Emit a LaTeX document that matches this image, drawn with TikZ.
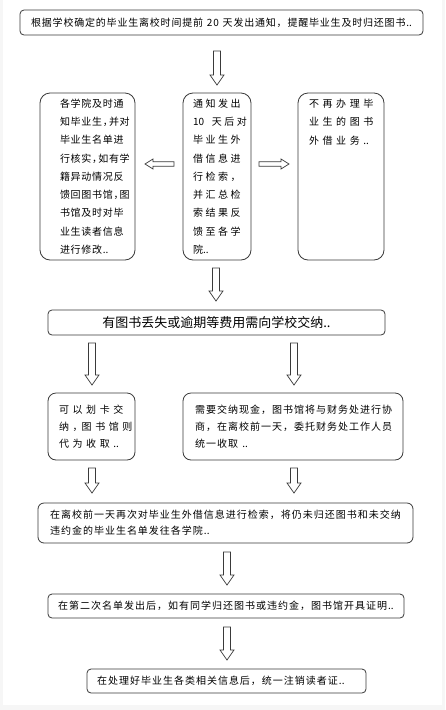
\documentclass[tikz,border=0pt]{standalone}
\usepackage{fontspec}
\setmainfont{Noto Sans CJK SC}
\usetikzlibrary{calc}
\definecolor{edge}{HTML}{3A3A3A}
\definecolor{pagegray}{HTML}{F6F6F6}
\makeatletter
\def\spcend{\spcend}
\newcommand\spc[2]{\def\spc@gap{#1}\spc@loop#2\spcend}
\def\spc@loop#1{\ifx#1\spcend\else#1\kern\spc@gap\expandafter\spc@loop\fi}
\makeatother
\newcommand\hc{，\kern-0.45em}
\newcommand\la[1]{\spc{0.7pt}{#1}}
\newcommand\lb[1]{\spc{2.5pt}{#1}}
\newcommand\lc[1]{\spc{3.6pt}{#1}}
\newcommand\ld[1]{\spc{1pt}{#1}}
\tikzset{
  box/.style={draw=edge, line width=0.8pt, fill=white, inner ysep=0pt, text=black},
  arr/.style={draw=edge, line width=0.7pt, fill=white, line join=miter},
}
\newcommand\darrow[2]{\draw[arr] let \p1=(#1), \p2=(#2) in
  (\x1-3.5pt,\y1) -- (\x1+3.5pt,\y1) -- (\x1+3.5pt,\y2+10pt) -- (\x1+7pt,\y2+10pt)
  -- (\x2,\y2) -- (\x1-7pt,\y2+10pt) -- (\x1-3.5pt,\y2+10pt) -- cycle;}
\newcommand\harrow[3]{\draw[arr] let \p1=(#1), \p2=(#2) in
  (\x1,\y1-2.2pt) -- ({\x2+#3},\y1-2.2pt) -- ({\x2+#3},\y1-5pt) -- (\x2,\y2)
  -- ({\x2+#3},\y1+5pt) -- ({\x2+#3},\y1+2.2pt) -- (\x1,\y1+2.2pt) -- cycle;}
\begin{document}
\begin{tikzpicture}[x=1pt, y=-1pt]
\fill[pagegray] (0,0) rectangle (445,710);
\fill[white] (3,0) rectangle (442,705);
\useasboundingbox (0,0) rectangle (445,710);

% boxes
\node[box, rounded corners=4pt, minimum width=403pt, minimum height=25pt,
  font=\fontsize{10}{12}\selectfont] (b1) at (221.5,22.5)
  {\spc{0.8pt}{根据学校确定的毕业生离校时间提前~20~天发出通知，提醒毕业生及时归还图书}..};

\node[box, rounded corners=10pt, minimum width=95pt, minimum height=167pt,
  text width=55pt, inner xsep=20pt, align=left,
  font=\fontsize{10}{18.3}\selectfont] (b2) at (87.5,176.5)
  {\la{各学院及时通}\\ \la{知毕业生\hc 并对}\\ \la{毕业生名单进}\\ \la{行核实\hc 如有学}\\
   \la{籍异动情况反}\\ \la{馈回图书馆\hc 图}\\ \la{书馆及时对毕}\\ \la{业生读者信息}\\ \la{进行修改}..};

\node[box, rounded corners=10pt, minimum width=68pt, minimum height=167pt,
  text width=48pt, inner xsep=10pt, align=left,
  font=\fontsize{10}{18.3}\selectfont] (b3) at (217,176.5)
  {\lb{通知发出}\\ 10\kern2pt\lb{~天后对}\\ \lb{毕业生外}\\ \lb{借信息进}\\ \lb{行检索，}\\
   \lb{并汇总检}\\ \lb{索结果反}\\ \lb{馈至各学}\\ 院..};

\node[box, rounded corners=10pt, minimum width=86pt, minimum height=167pt,
  text width=64pt, inner xsep=11pt, align=left,
  font=\fontsize{10}{18.3}\selectfont] (b4) at (341,176.5)
  {\lc{不再办理毕}\\ \lc{业生的图书}\\ \lc{外借业务}..\\ \mbox{}\\ \mbox{}\\ \mbox{}\\ \mbox{}\\ \mbox{}\\ \mbox{}};

\node[box, rounded corners=4pt, minimum width=337pt, minimum height=25pt,
  font=\fontsize{13}{15}\selectfont] (b5) at (216.5,322.5)
  {有图书丢失或逾期等费用需向学校交纳..};

\node[box, rounded corners=8pt, minimum width=87pt, minimum height=67pt,
  text width=65pt, inner xsep=11pt, align=left,
  font=\fontsize{10}{16.7}\selectfont] (b6) at (91.5,426.5)
  {\lc{可以划卡交}\\ \lc{纳\hc 图书馆则}\\ \lc{代为收取}..};

\node[box, rounded corners=8pt, minimum width=220pt, minimum height=67pt,
  text width=196pt, inner xsep=12pt, align=left,
  font=\fontsize{10}{16.7}\selectfont] (b7) at (293,426.5)
  {\ld{需要交纳现金，图书馆将与财务处进行协}\\ \ld{商，在离校前一天，委托财务处工作人员}\\ \ld{统一收取}~..};

\node[box, rounded corners=6pt, minimum width=375pt, minimum height=40pt,
  text width=351pt, inner xsep=12pt, align=left,
  font=\fontsize{10}{15.7}\selectfont] (b8) at (225.5,523)
  {\ld{在离校前一天再次对毕业生外借信息进行检索，将仍未归还图书和未交纳}\\ \ld{违约金的毕业生名单发往各学院}..};

\node[box, rounded corners=4pt, minimum width=356pt, minimum height=24pt,
  font=\fontsize{10}{12}\selectfont] (b9) at (226,606)
  {\ld{在第二次名单发出后，如有同学归还图书或违约金，图书馆开具证明}..};

\node[box, rounded corners=4pt, minimum width=279pt, minimum height=24pt,
  text width=259pt, inner xsep=10pt, align=left,
  font=\fontsize{10}{12}\selectfont] (b10) at (226.5,681)
  {\ld{在处理好毕业生各类相关信息后，统一注销读者证}..};

% arrow end points
\coordinate (a1t) at (217,51);  \coordinate (a1h) at (217,85);
\coordinate (aLt) at (174,164); \coordinate (aLh) at (145,164);
\coordinate (aRt) at (259,164); \coordinate (aRh) at (289,164);
\coordinate (a2t) at (216,268); \coordinate (a2h) at (216,301);
\coordinate (a3t) at (92,343);  \coordinate (a3h) at (92,385);
\coordinate (a4t) at (294,343); \coordinate (a4h) at (294,385);
\coordinate (a5t) at (92,468);  \coordinate (a5h) at (92,493);
\coordinate (a6t) at (294,468); \coordinate (a6h) at (294,493);
\coordinate (a7t) at (227,552); \coordinate (a7h) at (227,585);
\coordinate (a8t) at (227,627); \coordinate (a8h) at (227,660);

\darrow{a1t}{a1h}
\harrow{aLt}{aLh}{8pt}
\harrow{aRt}{aRh}{-8pt}
\darrow{a2t}{a2h}
\darrow{a3t}{a3h}
\darrow{a4t}{a4h}
\darrow{a5t}{a5h}
\darrow{a6t}{a6h}
\darrow{a7t}{a7h}
\darrow{a8t}{a8h}
\end{tikzpicture}
\end{document}
